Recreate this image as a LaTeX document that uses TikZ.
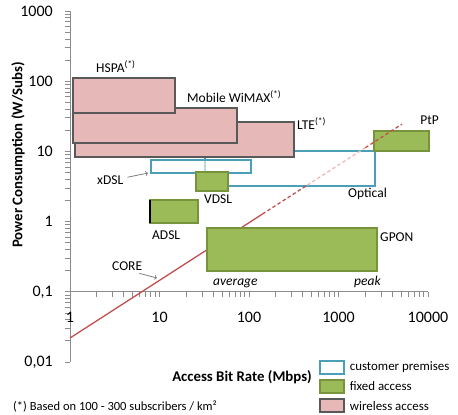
\documentclass[tikz,border=0pt]{standalone}
\usepackage{fontspec}
\setmainfont{Carlito}
\usetikzlibrary{positioning}
\definecolor{wirefill}{HTML}{E6B9B8}
\definecolor{wireline}{HTML}{595959}
\definecolor{fixfill}{HTML}{9BBB59}
\definecolor{fixline}{HTML}{77933C}
\definecolor{cpline}{HTML}{4BA0B8}
\definecolor{coreline}{HTML}{C0504D}
\definecolor{corefade}{HTML}{F2B8B8}
\definecolor{axisgray}{HTML}{8C8C8C}
\definecolor{pointgray}{HTML}{7F7F7F}

\begin{document}
\begin{tikzpicture}[x=89.5pt, y=70.2pt,
			wireless/.style={draw=wireline, fill=wirefill, line width=1.5pt},
			fixed/.style={draw=fixline, fill=fixfill, line width=1.3pt},
			premises/.style={draw=cpline, line width=1.3pt},
			axisline/.style={draw=axisgray, line width=0.9pt},
			coredash/.style={line width=1.3pt, dash pattern=on 3.5pt off 2.5pt},
			tag/.style={anchor=base west, inner sep=0pt, font=\fontsize{13.5}{15}\selectfont},
			ticklab/.style={inner sep=0pt, font=\fontsize{16}{18}\selectfont},
			axistitle/.style={inner sep=0pt, font=\bfseries\fontsize{14.8}{16}\selectfont},
			legbox/.style={minimum width=24pt, minimum height=13pt, inner sep=0pt},
			legtext/.style={inner sep=5pt, font=\fontsize{12.9}{14}\selectfont},
			pointer/.style={->, draw=pointgray, line width=0.8pt},
		]
			\useasboundingbox (-0.782,-2.741) rectangle (4.335,3.157);
		
			%Axes
			\draw[axisline] (0,-2) -- (0,3);
			\draw[axisline] (0,-1) -- (4,-1);
			\foreach \d in {-2,...,2}
				\foreach \k in {2,...,9}
					\draw[axisline] (0,{\d+log10(\k)}) -- ++(-5pt,0);
			\foreach \d in {0,...,3}
				\foreach \k in {2,...,9}
					\draw[axisline] ({\d+log10(\k)},-1) -- ++(0,-5pt);
			\foreach \d/\txt in {-2/{0,01}, -1/{0,1}, 0/1, 1/10, 2/100, 3/1000} {
				\draw[axisline] (0,\d) -- ++(-5pt,0);
				\node[ticklab, anchor=east]	(ylab\d)	at ([xshift=-17pt]0,\d)	{\txt};
			}
			\foreach \d/\txt in {0/1, 1/10, 2/100, 3/1000, 4/10000} {
				\draw[axisline] (\d,-1) -- ++(0,-5pt);
				\node[ticklab]	(xlab\d)	at ([yshift=-26pt]\d,-1)	{\txt};
			}
			\node[axistitle, rotate=90]	(ytitle)	at (-0.581,0.949)	{Power Consumption (W/Subs)};
			\node[axistitle]	(xtitle)	at (1.922,-2.214)	{Access Bit Rate (Mbps)};
		
			%Boxes
			\draw[premises] (1.508,0.507) rectangle (3.408,1.006);
			\draw[wireless] (0.056,0.920) rectangle (2.503,1.419);
			\draw[wireless] (0.034,1.120) rectangle (1.866,1.618);
			\draw[wireless] (0.034,1.547) rectangle (1.173,2.046);
			\draw[premises, fill=white, fill opacity=0.6] (0.905,0.692) rectangle (2.022,0.877);
			\draw[fixed] (1.408,0.436) rectangle (1.765,0.707);
			\draw[fixed] (0.894,-0.020) rectangle (1.430,0.308);
			\draw[black, line width=1.5pt] (0.894,-0.020) -- (0.894,0.308);
			\draw[fixed] (3.397,1.006) rectangle (4.011,1.291);
		
			%Core line
			\draw[coreline, line width=1.3pt] (0,-1.658) -- (2.15,0.108);
			\draw[coreline, coredash] (2.15,0.108) -- (2.65,0.519);
			\draw[corefade, coredash] (2.65,0.519) -- (3.3,1.053);
			\draw[coreline, coredash] (3.3,1.053) -- (3.709,1.389);
			\draw[fixed] (1.531,-0.704) rectangle (3.430,-0.091);
		
			%Labels
			\node[tag]	(hspa)	at (0.291,2.124)	{HSPA\textsuperscript{(*)}};
			\node[tag]	(wimax)	at (1.307,1.697)	{Mobile WiMAX\textsuperscript{(*)}};
			\node[tag]	(lte)	at (2.536,1.312)	{LTE\textsuperscript{(*)}};
			\node[tag]	(ptp)	at (3.911,1.383)	{PtP};
			\node[tag]	(optical)	at (3.106,0.343)	{Optical};
			\node[tag]	(xdsl)	at (0.302,0.528)	{xDSL};
			\node[tag]	(vdsl)	at (1.497,0.258)	{VDSL};
			\node[tag]	(adsl)	at (0.916,-0.255)	{ADSL};
			\node[tag]	(gpon)	at (3.464,-0.283)	{GPON};
			\node[tag]	(core)	at (0.469,-0.697)	{CORE};
			\node[tag, font=\itshape\fontsize{13.5}{15}\selectfont]	(average)	at (1.598,-0.903)	{average};
			\node[tag, font=\itshape\fontsize{13.5}{15}\selectfont]	(peak)	at (3.173,-0.903)	{peak};
		
			%Pointers
			\coordinate (xdslcorner) at (0.872,0.692);
			\coordinate (corept) at (0.972,-0.803);
			\draw[pointer]	([xshift=4pt,yshift=3pt]xdsl.east) -- (xdslcorner);
			\draw[pointer]	([xshift=-3pt,yshift=-2.5pt]core.south east) -- (corept);
		
			%Legend
			\node[legbox, premises, fill=white, label={[legtext]right:customer premises}]	(legcp)	at (2.927,-2.078)	{};
			\node[legbox, fixed, label={[legtext]right:fixed access}]	(legfix)	at (2.927,-2.349)	{};
			\node[legbox, wireless, label={[legtext]right:wireless access}]	(legwire)	at (2.927,-2.620)	{};
			\node[inner sep=0pt, anchor=west, font=\fontsize{12.5}{14}\selectfont]	(footnote)	at (-0.637,-2.635)	{(*) Based on 100 - 300 subscribers / km²};
		
		\end{tikzpicture}
\end{document}
